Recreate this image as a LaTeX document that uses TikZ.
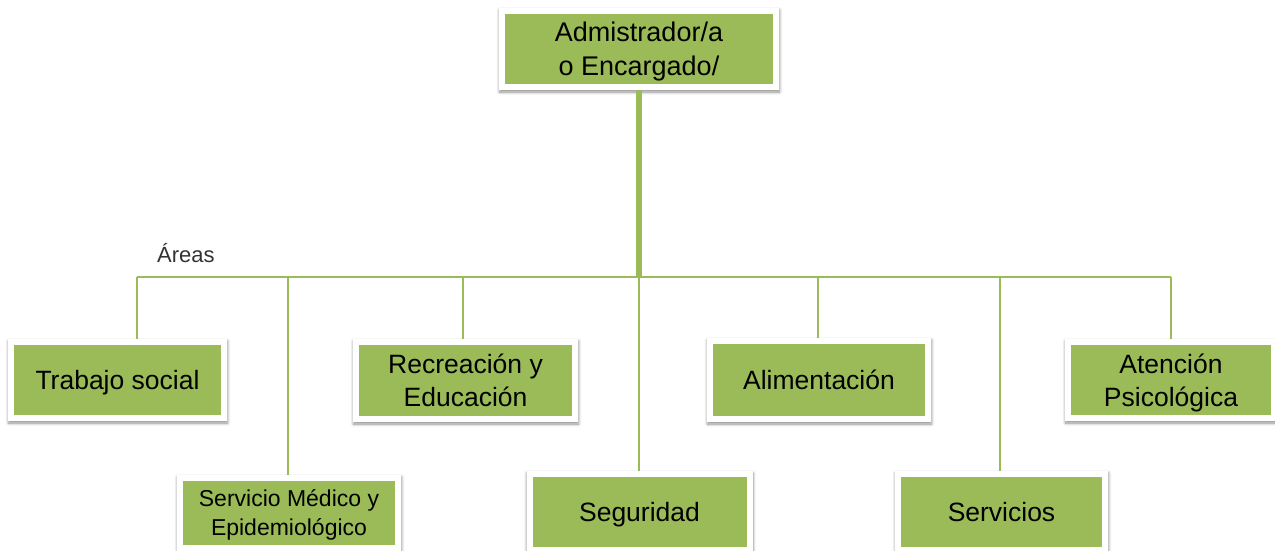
\documentclass[tikz,border=0pt]{standalone}
\usepackage{fontspec}
\setmainfont{Liberation Sans}
\usetikzlibrary{shadows.blur}
\definecolor{verdecaja}{HTML}{9BBB59}
\definecolor{grisarea}{HTML}{333333}

\begin{document}
\begin{tikzpicture}[x=1pt,y=-1pt,
        caja/.style={fill=white, inner sep=0pt, align=center, text depth=0pt,
            font=\fontsize{26.5}{33}\selectfont,
            blur shadow={shadow xshift=0.5pt, shadow yshift=-2pt, shadow blur radius=3pt,
                shadow blur steps=6, shadow opacity=45},
            path picture={\fill[verdecaja] ([shift={(6pt,6pt)}]path picture bounding box.south west)
                rectangle ([shift={(-6pt,-6pt)}]path picture bounding box.north east);}},
        linea/.style={verdecaja, line width=2pt}]
        \useasboundingbox (0,0) rectangle (1275,551);
        % Jefatura
        \node[caja, minimum width=280pt, minimum height=82pt, font=\fontsize{27}{34}\selectfont] (admin) at (639,49) {Admistrador/a\\o Encargado/};
        % Areas de arriba
        \node[caja, minimum width=219pt, minimum height=82pt] (trabajo) at (117.5,380) {Trabajo social};
        \node[caja, minimum width=225pt, minimum height=83pt] (recreacion) at (465.5,380.5) {Recreación y\\Educación};
        \node[caja, minimum width=224pt, minimum height=84pt] (alimentacion) at (819,380) {Alimentación};
        \node[caja, minimum width=212pt, minimum height=82pt] (atencion) at (1171,380) {Atención\\Psicológica};
        % Areas de abajo
        \node[caja, minimum width=224pt, minimum height=76pt, font=\fontsize{23}{29}\selectfont] (medico) at (289,513) {Servicio Médico y\\Epidemiológico};
        \node[caja, minimum width=226pt, minimum height=82pt] (seguridad) at (639.5,512) {Seguridad};
        \node[caja, minimum width=213pt, minimum height=82pt] (servicios) at (1001.5,512) {Servicios};
        % Rotulo
        \node[anchor=base west, inner sep=0pt, text=grisarea, font=\fontsize{22}{26}\selectfont] (areas) at (157,262) {Áreas};
        % Lineas
        \coordinate (r1) at (137,277);
        \coordinate (r2) at (288,277);
        \coordinate (r3) at (463,277);
        \coordinate (r4) at (639,277);
        \coordinate (r5) at (818,277);
        \coordinate (r6) at (1000,277);
        \coordinate (r7) at (1171,277);
        \draw[linea] (r1) -- (r7);
        \foreach \i/\n in {1/trabajo, 2/medico, 3/recreacion, 4/seguridad, 5/alimentacion, 6/servicios, 7/atencion}
            \draw[linea] (r\i) -- (r\i |- \n.north);
        \draw[verdecaja, line width=6pt] (admin.south) -- (admin.south |- r4);
    \end{tikzpicture}
\end{document}
